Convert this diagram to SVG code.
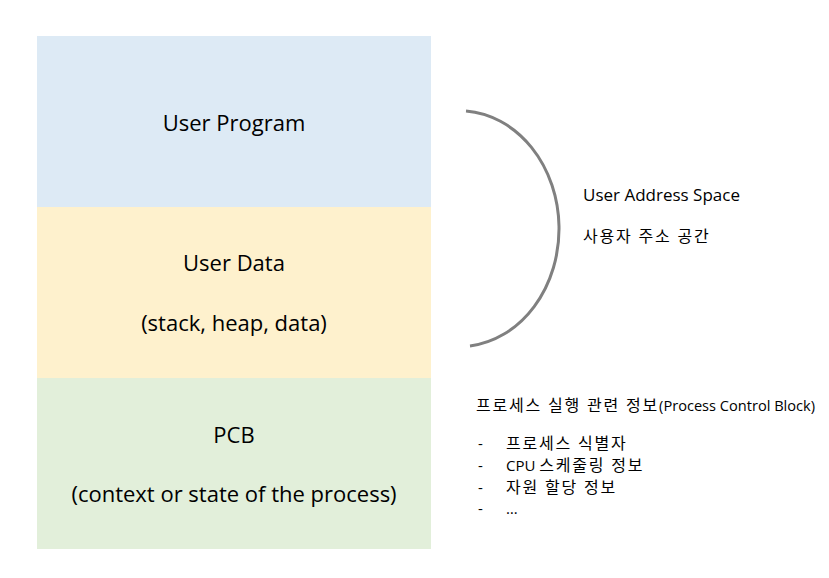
<svg xmlns="http://www.w3.org/2000/svg" width="829" height="578" viewBox="0 0 829 578">
<style>
.t{font-family:"Open Sans","Noto Sans CJK KR",sans-serif;fill:#000}
.big{font-size:22px;text-anchor:middle}
.mid{font-size:17px}
.sm{font-size:15px}
.lat{font-size:14.6px}
.ko{font-size:16px;letter-spacing:1.8px}
</style>
<rect width="829" height="578" fill="#fff"/>
<g id="user-program">
<rect x="37" y="36" width="394" height="171" fill="#DDEAF5"/>
<text class="t big" x="234" y="131">User Program</text>
</g>
<g id="user-data">
<rect x="37" y="207" width="394" height="171" fill="#FEF1CD"/>
<text class="t big" x="234" y="271">User Data</text>
<text class="t big" x="234" y="331">(stack, heap, data)</text>
</g>
<g id="pcb">
<rect x="37" y="378" width="394" height="171" fill="#E2EFDA"/>
<text class="t big" x="234" y="443">PCB</text>
<text class="t big" x="234" y="502">(context or state of the process)</text>
</g>
<g id="connectors">
<path d="M466,111 A 100 118 0 0 1 470,346" fill="none" stroke="#808080" stroke-width="3"/>
</g>
<g id="user-address-space">
<text class="t mid" x="583" y="201">User Address Space</text>
<text class="t ko" x="583" y="242">사용자 주소 공간</text>
</g>
<g id="pcb-info">
<text class="t sm" x="476" y="411"><tspan class="ko">프로세스 실행 관련 정보</tspan><tspan class="lat">(Process Control Block)</tspan></text>
<text class="t sm" x="478" y="449">-</text>
<text class="t ko" x="506" y="449">프로세스 식별자</text>
<text class="t sm" x="478" y="471">-</text>
<text class="t sm" x="506" y="471">CPU <tspan class="ko">스케줄링 정보</tspan></text>
<text class="t sm" x="478" y="493">-</text>
<text class="t ko" x="506" y="493">자원 할당 정보</text>
<text class="t sm" x="478" y="514">-</text>
<text class="t sm" x="506" y="514">…</text>
</g>
</svg>
